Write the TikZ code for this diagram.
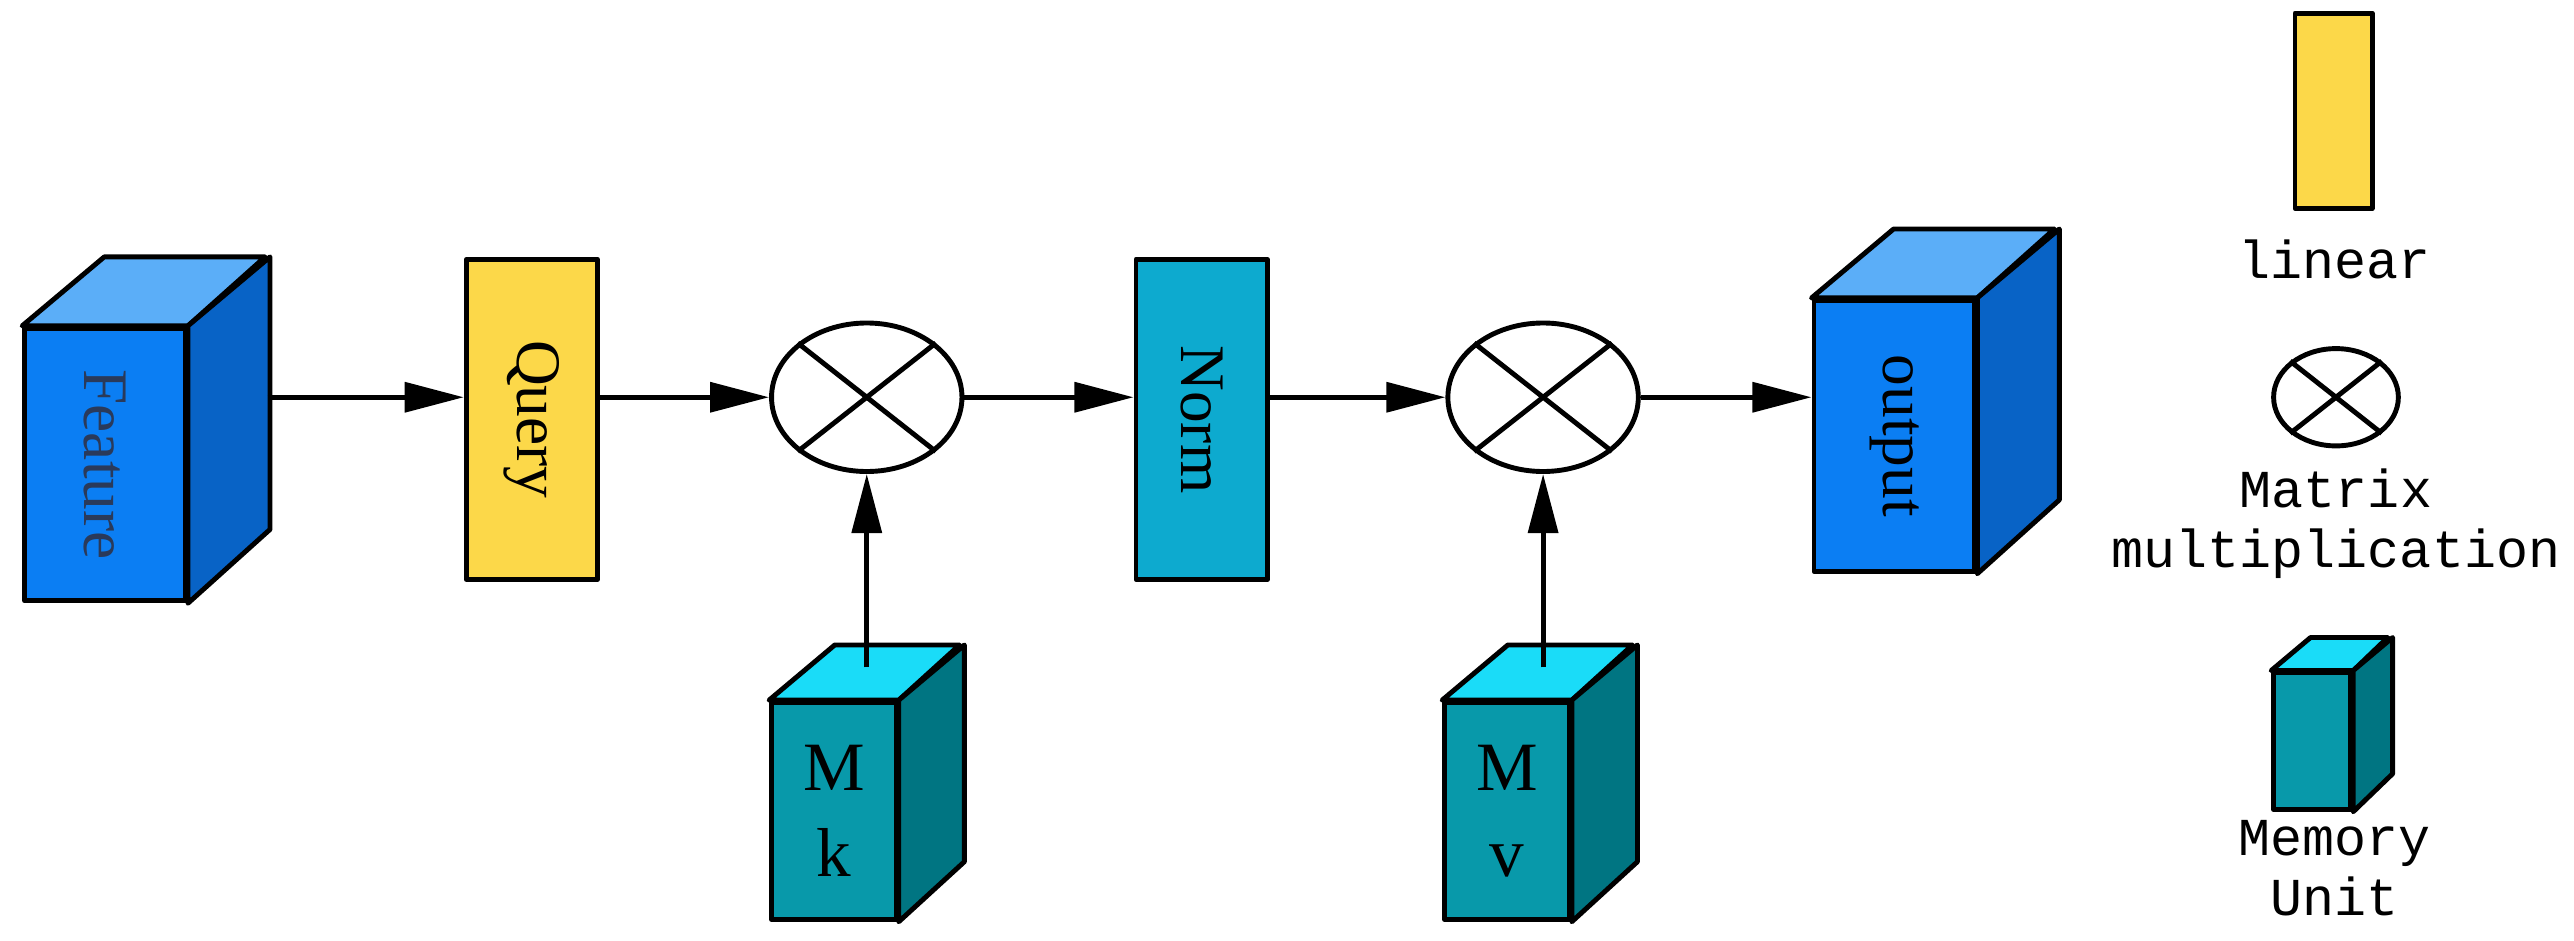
\documentclass[tikz,border=0pt]{standalone}
\usepackage{fontspec}
\setmainfont{Liberation Serif}
\newfontfamily\mono{Liberation Mono}
\usetikzlibrary{arrows.meta,calc,shapes.geometric}
\definecolor{bfront}{HTML}{0B7EF3}\definecolor{btop}{HTML}{5BAEF8}\definecolor{bside}{HTML}{0863C6}
\definecolor{tfront}{HTML}{0899AA}\definecolor{ttop}{HTML}{1ADCF8}\definecolor{tside}{HTML}{007582}
\definecolor{ylw}{HTML}{FCD849}\definecolor{nrm}{HTML}{0DAACF}\definecolor{ftxt}{HTML}{2A3A5A}
\newcommand{\mycube}[9]{%
 \node[draw,fill=#7,inner sep=0,minimum width={#4*0.02cm},minimum height={#5*0.02cm}] (#1) at (#2,#3) {};
 \draw[fill=#8] (#1.north west) -- ++(#6,{-0.84*#6}) -- ++(#4,0) -- (#1.north east) -- cycle;
 \draw[fill=#9] (#1.north east) -- ++(#6,{-0.84*#6}) -- ++(0,#5) -- (#1.south east) -- cycle;}
\begin{document}
\begin{tikzpicture}[x=0.02cm,y=-0.02cm,line width=1.7pt,line join=round,
 arr/.style={-{Triangle[length=0.72cm,width=0.36cm]}},
 mul/.style={ellipse,draw,minimum width={#1*0.02cm},minimum height={#1*0.78*0.02cm},inner sep=0},
 lbl/.style={font=\mono\fontsize{18.5}{21}\selectfont},
 rt/.style={rotate=-90,font=\fontsize{22}{24}\selectfont}]
\useasboundingbox (0,0) rectangle (1568,573);
\mycube{feat}{64}{283}{98}{166}{50}{bfront}{btop}{bside}
\node[rt,text=ftxt] at (feat) {Feature};
\node[draw,fill=ylw,minimum width=1.6cm,minimum height=3.9cm,inner sep=0] (q) at (324,255.5) {};
\node[rt] at (q) {Query};
\node[mul=116] (c1) at (528,242) {};
\node[draw,fill=nrm,minimum width=1.6cm,minimum height=3.9cm,inner sep=0] (n) at (732,255.5) {};
\node[rt] at (n) {Norm};
\node[mul=116] (c2) at (940,242) {};
\mycube{out}{1154}{265.5}{98}{165}{50}{bfront}{btop}{bside}
\node[rt] at (out) {output};
\mycube{mk}{508}{494}{76}{132}{40}{tfront}{ttop}{tside}
\node[align=center,font=\fontsize{24}{30}\selectfont] at (mk) {M\\k};
\mycube{mv}{918}{494}{76}{132}{40}{tfront}{ttop}{tside}
\node[align=center,font=\fontsize{24}{30}\selectfont] at (mv) {M\\v};
\foreach \c in {c1,c2}{
 \draw (\c.north west) -- (\c.south east) (\c.north east) -- (\c.south west);}
\coordinate (fe) at (163,242);
\draw[arr] (fe) -- (q.west|-fe);
\draw[arr] (q.east|-c1) -- (c1.west);
\draw[arr] (c1.east) -- (n.west|-c1);
\draw[arr] (n.east|-c2) -- (c2.west);
\draw[arr] (c2.east) -- (out.west|-c2);
\coordinate (mkt) at ($(mk.north)+(15,-20)$);
\coordinate (mvt) at ($(mv.north)+(19,-20)$);
\draw[arr] (c1.south|-mkt) -- (c1.south);
\draw[arr] (c2.south|-mvt) -- (c2.south);
% legend
\node[draw,fill=ylw,minimum width=0.94cm,minimum height=2.38cm,inner sep=0] (ly) at (1421.5,67.5) {};
\node[lbl] (l1) at (1422,158) {linear};
\node[mul=76] (lc) at (1423,242) {};
\draw (lc.north west) -- (lc.south east) (lc.north east) -- (lc.south west);
\node[lbl,align=center] (l2) at (1423,319) {Matrix\\multiplication};
\mycube{lm}{1408.5}{451.5}{47}{83}{24}{tfront}{ttop}{tside}
\node[lbl,align=center] (l3) at (1422,529) {Memory\\Unit};
\end{tikzpicture}
\end{document}
